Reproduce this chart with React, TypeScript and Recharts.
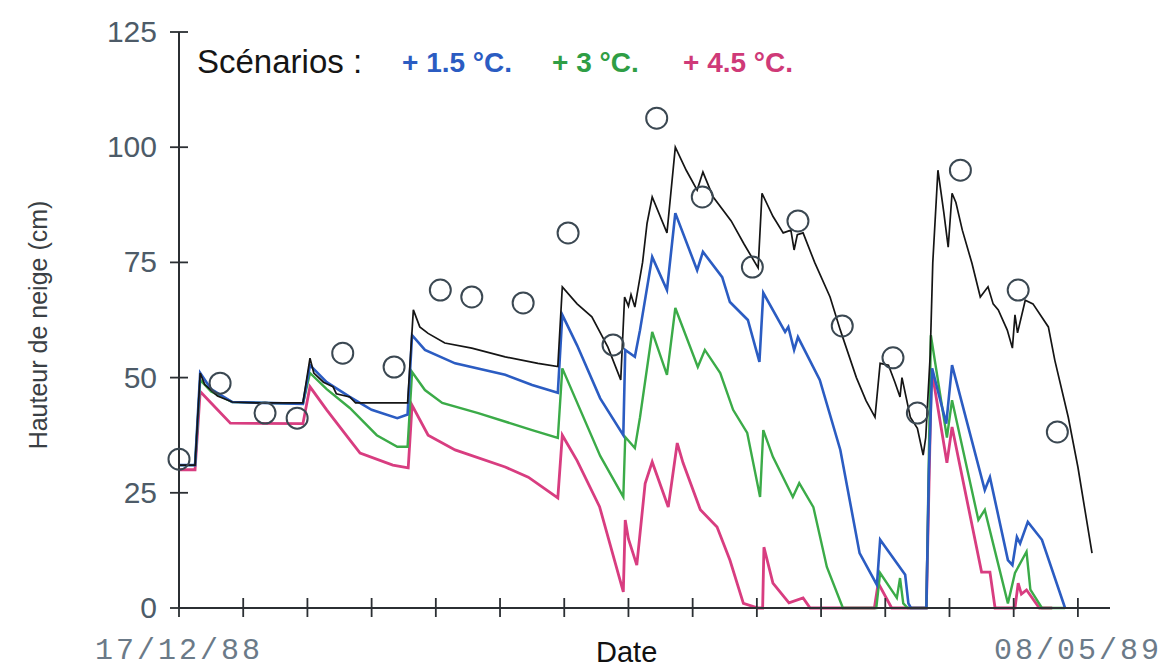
import * as React from "react";
import { ComposedChart, Line, Scatter, XAxis, YAxis } from "recharts";

type Pt = [number, number]; // [day since 17/12/88, snow depth cm]

// measured snow depth (circles)
const obsDays = [0, 6.4, 13.4, 18.4, 25.5, 33.5, 40.7, 45.6, 53.6, 60.6, 67.6, 74.4, 81.5, 89.3, 96.4, 103.3, 111.2, 115, 121.7, 130.7, 136.8];
const obsDepth = [32.3, 48.8, 42.3, 41.2, 55.3, 52.3, 69, 67.5, 66.2, 81.4, 57.1, 106.3, 89.2, 74, 84, 61.2, 54.3, 42.3, 95, 69, 38.2];

// simulated, present climate (black)
const refPts: Pt[] = [
  [0, 31], [2.5, 31], [3.3, 51], [4, 48.5], [6, 46], [8.3, 44.7], [12, 44.5], [19.3, 44.5], [20.4, 54.2], [21, 51],
  [22.5, 49], [24, 48], [24.5, 46.5], [26.6, 45.8], [27.5, 44.5], [35.6, 44.5], [36.5, 64.7], [37.5, 61], [38.8, 59.6],
  [41.4, 57.5], [45.6, 56.4], [50.8, 54.5], [55.9, 53.1], [59, 52.4], [59.7, 69.7], [62, 66], [64.3, 63.2], [66.8, 56.6],
  [68.8, 49.5], [69.4, 67.5], [70, 65.5], [70.4, 68], [71, 65.3], [72.2, 75], [72.9, 83.5], [73.7, 89.2], [76, 81.4],
  [77.3, 100], [79, 95], [80.7, 90.7], [81.6, 94.6], [83.2, 89.2], [86, 84], [88, 79], [90.2, 73.8], [90.8, 90],
  [92.5, 85], [94.1, 81.4], [95.3, 82], [95.8, 77.7], [96.3, 81], [97.2, 81.4], [99, 75], [101.4, 67.5], [103, 60.3],
  [105.5, 50], [107, 45], [108.4, 41.4], [109.2, 53.1], [110.5, 52.7], [111.5, 49], [112.3, 45.8], [112.6, 50],
  [113.9, 41.4], [115, 39], [115.9, 33.2], [116.3, 37], [117, 55], [117.4, 75], [118.2, 95], [119.1, 86], [119.8, 78.3],
  [120.4, 90], [121, 88], [122, 82], [123.5, 74.8], [124.8, 67.5], [126, 69.7], [126.8, 66], [127.6, 64.7], [129, 60.3],
  [129.8, 56.4], [130.2, 63.6], [130.6, 59.7], [131.8, 66.8], [133, 66], [135.4, 61], [136.4, 53.8], [138.5, 41.4],
  [140, 30.6], [142.2, 11.9],
];

// + 1.5 °C
const plus15Pts: Pt[] = [
  [0, 31], [2.5, 31], [3.3, 51], [5, 47.5], [8.3, 44.7], [19.3, 44.3], [20.4, 52.7], [23, 49], [26.6, 45.8], [30, 43],
  [34, 41.2], [35.6, 42], [36.3, 59.2], [38.3, 56], [43, 53.1], [50.8, 50.6], [55, 48.4], [59, 46.7], [59.7, 63.6],
  [62, 57], [65.6, 45.5], [69.2, 37.5], [69.5, 56], [71, 54.5], [71.8, 60.3], [73.7, 76.2], [76, 69], [77.3, 85.7],
  [80.7, 73.3], [81.6, 77.3], [84.6, 71.8], [85.8, 66.4], [88.6, 62.5], [90.4, 53.4], [91, 68.4], [94.4, 59.9],
  [94.9, 61], [95.8, 56], [96.4, 58.8], [99.8, 49.5], [103, 34.3], [106, 11.9], [108.7, 5], [109.2, 14.8], [113.1, 7.2],
  [113.6, 1], [114, 0], [116.4, 0], [116.8, 30], [117.3, 52], [119.5, 40], [120.4, 52.7], [125.5, 25.6], [126.3, 28.4],
  [129.1, 10.4], [129.8, 9.3], [130.5, 15.4], [131, 14], [132.2, 18.7], [134.4, 14.8], [138, 0],
];

// + 3 °C
const plus3Pts: Pt[] = [
  [0, 31], [2.5, 31], [3.3, 49.5], [5, 47], [8.3, 44.7], [19.3, 44.3], [20.4, 51], [23, 47.5], [26.6, 43.4], [30.8, 37.5],
  [34, 35], [35.6, 35], [36.3, 51.2], [38.3, 47.3], [41, 44.5], [46.6, 42.3], [55, 38.6], [59, 36.9], [59.7, 52],
  [65.6, 33], [69.2, 24.1], [69.5, 37.1], [71, 34.7], [71.8, 41.4], [73.7, 59.9], [76, 50.6], [77.3, 65.1], [80.8, 52.3],
  [81.9, 56], [84.3, 51], [86.3, 43], [88.5, 38], [90.5, 24.1], [91, 38.6], [92.5, 32.8], [95.6, 24.1], [96.6, 27.1],
  [98.8, 21.9], [100.9, 8.9], [103.4, 0], [108.6, 0], [109.2, 7.6], [111.8, 2.2], [112.3, 6.5], [112.8, 1], [113.5, 0],
  [116.4, 0], [117.1, 59.2], [119.6, 37], [120.4, 45.1], [124.5, 19.1], [125.5, 21.3], [129.1, 1], [130.2, 7.6],
  [132, 12.2], [132.6, 4], [134.4, 0], [138, 0],
];

// + 4.5 °C
const plus45Pts: Pt[] = [
  [0, 30], [2.5, 30], [3.3, 47], [5, 44.5], [8, 40.1], [19.3, 40], [20.4, 48], [23, 43], [26.6, 36.5], [28.2, 33.6],
  [33.3, 31], [35.7, 30.4], [36.3, 44], [38.8, 37.5], [43, 34.3], [50.8, 30.6], [54.4, 28.4], [59, 23.9], [59.7, 37.5],
  [62, 32], [65.5, 22], [69.2, 3.5], [69.5, 19.1], [70, 15], [71.3, 9.3], [72.6, 27], [73.7, 31.7], [76.2, 21.9],
  [77.6, 35.8], [78.5, 31.5], [81.2, 21.3], [83.8, 17.6], [85.8, 10.4], [87.9, 1], [90.2, 0], [90.9, 0], [91.1, 13.2],
  [92.5, 5.4], [95, 1.1], [97.2, 2.2], [98.3, 0], [108.3, 0], [108.9, 5.4], [111, 0], [116.4, 0], [117.2, 51.9],
  [119.6, 31.5], [120.4, 39.3], [125, 7.8], [126.3, 7.8], [127.1, 0], [130.2, 0], [130.7, 5.4], [131.2, 3], [132, 3.9],
  [134, 0], [136, 0],
];

const xTicks = [0, 10, 20, 30, 40, 50, 60, 70, 80, 90, 100, 110, 120, 130, 140];
const xTickLabels: Record<number, string> = { 0: "17/12/88", 140: "08/05/89" };
const yTicks = [0, 25, 50, 75, 100, 125];

const toRows = (pts: Pt[]) => pts.map(([d, v]) => ({ d, v }));
const obsRows = obsDays.map((d, i) => ({ d, v: obsDepth[i] }));

const AXIS = "#2b2f33";
const TICK_TXT = "#4d5b68";

function YTick(props: any) {
  const { x, y, payload } = props;
  return (
    <g>
      <line x1={x - 9} x2={x + 9} y1={y} y2={y} stroke={AXIS} strokeWidth={1.8} />
      <text x={x - 22} y={y} dy={10} textAnchor="end" fontSize={30} fill={TICK_TXT} fontFamily="Liberation Sans, Arial, sans-serif">
        {payload.value}
      </text>
    </g>
  );
}

function XTick(props: any) {
  const { x, y, payload } = props;
  const lbl = xTickLabels[payload.value];
  return (
    <g>
      <line x1={x} x2={x} y1={y - 10} y2={y + 9} stroke={AXIS} strokeWidth={1.8} />
      {lbl ? (
        <text x={x} y={y + 51} textAnchor="middle" fontSize={30} letterSpacing={3} fill="#6b7a88" fontFamily="Liberation Mono, DejaVu Sans Mono, monospace">
          {lbl}
        </text>
      ) : null}
    </g>
  );
}

function Circle(props: any) {
  const { cx, cy } = props;
  if (cx == null || cy == null) return null;
  return <circle cx={cx} cy={cy} r={10.5} fill="none" stroke="#3b4852" strokeWidth={2} />;
}

const legendFont = "Liberation Sans, Arial, sans-serif";

export default function App() {
  return (
    <div style={{ position: "absolute", left: 0, top: 0, width: 1173, height: 668, background: "#fff" }}>
      <ComposedChart width={1173} height={668} margin={{ top: 32, right: 63, bottom: 30, left: 119 }}>
        <XAxis
          xAxisId="b"
          type="number"
          dataKey="d"
          domain={[0, 145]}
          ticks={xTicks}
          interval={0}
          tick={<XTick />}
          tickLine={false}
          tickSize={0}
          tickMargin={0}
          height={30}
          axisLine={{ stroke: AXIS, strokeWidth: 2 }}
          allowDuplicatedCategory={false}
        />
        <XAxis
          xAxisId="t"
          orientation="top"
          type="number"
          dataKey="d"
          domain={[0, 145]}
          tick={false}
          tickLine={false}
          height={0}
          axisLine={{ stroke: AXIS, strokeWidth: 2 }}
        />
        <YAxis
          yAxisId="l"
          type="number"
          domain={[0, 125]}
          ticks={yTicks}
          interval={0}
          tick={<YTick />}
          tickLine={false}
          tickSize={0}
          tickMargin={0}
          width={60}
          axisLine={{ stroke: AXIS, strokeWidth: 2 }}
        />
        <YAxis
          yAxisId="r"
          orientation="right"
          type="number"
          domain={[0, 125]}
          tick={false}
          tickLine={false}
          width={0}
          axisLine={{ stroke: AXIS, strokeWidth: 2 }}
        />
        <Line xAxisId="b" yAxisId="l" data={toRows(plus45Pts)} dataKey="v" type="linear" stroke="#d83d80" strokeWidth={2.8} dot={false} isAnimationActive={false} />
        <Line xAxisId="b" yAxisId="l" data={toRows(plus3Pts)} dataKey="v" type="linear" stroke="#3bab48" strokeWidth={2.4} dot={false} isAnimationActive={false} />
        <Line xAxisId="b" yAxisId="l" data={toRows(plus15Pts)} dataKey="v" type="linear" stroke="#2b5cc2" strokeWidth={2.6} dot={false} isAnimationActive={false} />
        <Line xAxisId="b" yAxisId="l" data={toRows(refPts)} dataKey="v" type="linear" stroke="#151515" strokeWidth={1.7} dot={false} isAnimationActive={false} />
        <Scatter xAxisId="b" yAxisId="l" data={obsRows} dataKey="v" shape={<Circle />} isAnimationActive={false} />
      </ComposedChart>

      <div style={{ position: "absolute", left: 197, top: 45, fontFamily: legendFont, fontSize: 33, lineHeight: 1, color: "#151515", whiteSpace: "nowrap" }}>
        Scénarios :
      </div>
      <div style={{ position: "absolute", left: 402, top: 49, fontFamily: legendFont, fontSize: 28, fontWeight: 700, lineHeight: 1, color: "#2b5cc2", whiteSpace: "nowrap" }}>
        + 1.5 °C.
      </div>
      <div style={{ position: "absolute", left: 552, top: 49, fontFamily: legendFont, fontSize: 28, fontWeight: 700, lineHeight: 1, color: "#2f9e45", whiteSpace: "nowrap" }}>
        + 3 °C.
      </div>
      <div style={{ position: "absolute", left: 683, top: 49, fontFamily: legendFont, fontSize: 28, fontWeight: 700, lineHeight: 1, color: "#cf3a78", whiteSpace: "nowrap" }}>
        + 4.5 °C.
      </div>

      <div
        style={{
          position: "absolute",
          left: 38,
          top: 325,
          transform: "translate(-50%, -50%) rotate(-90deg)",
          fontFamily: legendFont,
          fontSize: 25,
          color: "#3a3f44",
          whiteSpace: "nowrap",
        }}
      >
        Hauteur de neige (cm)
      </div>
      <div style={{ position: "absolute", left: 596, top: 638, fontFamily: legendFont, fontSize: 29, lineHeight: 1, color: "#111", whiteSpace: "nowrap" }}>
        Date
      </div>
    </div>
  );
}
